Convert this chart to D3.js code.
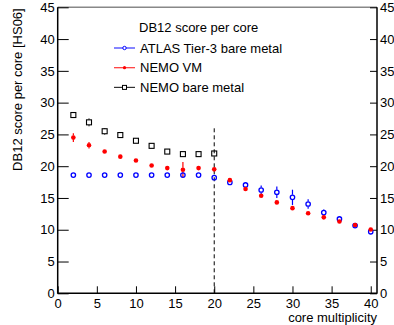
<!DOCTYPE html>
<html>
<head>
<meta charset="utf-8">
<script src="https://d3js.org/d3.v7.min.js"></script>
<style>
  body { margin: 0; background: #fff; }
  svg { display: block; font-family: "Liberation Sans", Arial, sans-serif; }
</style>
</head>
<body>
<svg width="394" height="325"></svg>
<script>
// values
var cores = [2, 4, 6, 8, 10, 12, 14, 16, 18, 20, 22, 24, 26, 28, 30, 32, 34, 36, 38, 40];
var atlasScore = [18.6, 18.6, 18.6, 18.6, 18.6, 18.6, 18.6, 18.6, 18.6, 18.2, 17.45, 17.05, 16.25, 15.9, 15.1, 14.05, 12.7, 11.7, 10.65, 9.7];
var atlasErr = [0.1, 0.1, 0.1, 0.1, 0.1, 0.1, 0.1, 0.1, 0.1, 0.3, 0.3, 0.35, 0.7, 0.9, 1.2, 0.75, 0.5, 0.4, 0.3, 0.5];
var vmScore = [24.5, 23.3, 22.3, 21.5, 20.9, 20.1, 19.7, 19.45, 19.7, 19.5, 17.8, 16.4, 15.35, 14.3, 13.4, 12.6, 11.95, 11.3, 10.75, 10.05];
var vmErr = [0.7, 0.5, 0.15, 0.1, 0.1, 0.1, 0.1, 1.2, 0.1, 0.2, 0.2, 0.1, 0.1, 0.1, 0.1, 0.1, 0.1, 0.1, 0.1, 0.1];
var bareCores = [2, 4, 6, 8, 10, 12, 14, 16, 18, 20];
var bareScore = [28.05, 26.9, 25.5, 24.9, 24.0, 23.2, 22.3, 21.9, 21.9, 22.0];
var bareErr = [0.1, 0.6, 0.5, 0.1, 0.1, 0.1, 0.1, 0.1, 0.1, 0.4];
var yTicks = [0, 5, 10, 15, 20, 25, 30, 35, 40, 45];
var xTicks = [0, 5, 10, 15, 20, 25, 30, 35, 40];
var cutCores = 20, cutTop = 26;

var svg = d3.select("svg"),
    padL = 57.7, padR = 377, padT = 7.3, padB = 293.3;

var x = d3.scaleLinear().domain([0, 40.8]).range([padL, padR]);
var y = d3.scaleLinear().domain([0, 45]).range([padB, padT]);

// frame top
svg.append("line").attr("x1", padL).attr("x2", padR).attr("y1", padT).attr("y2", padT)
    .attr("stroke", "#888").attr("stroke-width", 1.5);

// left axis (ticks inward)
var gl = svg.append("g").attr("transform", "translate(" + padL + ",0)");
gl.call(d3.axisLeft(y).tickValues(d3.range(0, 46)).tickSize(-6).tickFormat(""));
gl.call(d3.axisLeft(y).tickValues(yTicks).tickSize(-11).tickPadding(3));
gl.selectAll(".domain").remove();

// right axis
var gr = svg.append("g").attr("transform", "translate(" + padR + ",0)");
gr.call(d3.axisRight(y).tickValues(d3.range(0, 46)).tickSize(-3.5).tickFormat(""));
gr.call(d3.axisRight(y).tickValues(yTicks).tickSize(-7).tickPadding(3));
gr.selectAll(".domain").remove();

// bottom axis
var gb = svg.append("g").attr("transform", "translate(0," + padB + ")");
gb.call(d3.axisBottom(x).tickValues(d3.range(0, 41)).tickSize(-4).tickFormat(""));
gb.call(d3.axisBottom(x).tickValues(xTicks).tickSize(-7).tickPadding(5));
gb.selectAll(".domain").remove();

svg.selectAll(".tick text").attr("font-size", 13).attr("font-family", "Liberation Sans, Arial, sans-serif").attr("fill", "#000");
svg.selectAll(".tick line").attr("stroke", "#000");

svg.append("line").attr("x1", padL).attr("x2", padL).attr("y1", padT).attr("y2", padB + 0.5)
    .attr("stroke", "#000").attr("stroke-width", 1.5);
svg.append("line").attr("x1", padR).attr("x2", padR).attr("y1", padT).attr("y2", padB + 0.5)
    .attr("stroke", "#000").attr("stroke-width", 1.5);
svg.append("line").attr("x1", padL).attr("x2", padR).attr("y1", padB).attr("y2", padB)
    .attr("stroke", "#000").attr("stroke-width", 1.5);

// titles
svg.append("text")
    .attr("transform", "translate(22," + (padT + 1) + ") rotate(-90)")
    .attr("text-anchor", "end").attr("font-size", 13)
    .text("DB12 score per core [HS06]");
svg.append("text")
    .attr("x", padR).attr("y", 322)
    .attr("text-anchor", "end").attr("font-size", 13)
    .text("core multiplicity");

// dashed line at 20 cores
svg.append("line")
    .attr("x1", x(cutCores)).attr("x2", x(cutCores))
    .attr("y1", y(0)).attr("y2", y(cutTop))
    .attr("stroke", "#000").attr("stroke-dasharray", "4,3");

// error bars drawn outside the marker
function errBars(xs, ys, es, color, gap) {
    var g = svg.append("g").attr("stroke", color).attr("stroke-width", 1.2);
    xs.forEach(function (c, i) {
        var cx = x(c), cy = y(ys[i]);
        var hi = y(ys[i] + es[i]), lo = y(ys[i] - es[i]);
        if (cy - hi > gap) g.append("line").attr("x1", cx).attr("x2", cx).attr("y1", hi).attr("y2", cy - gap);
        if (lo - cy > gap) g.append("line").attr("x1", cx).attr("x2", cx).attr("y1", cy + gap).attr("y2", lo);
    });
}

errBars(cores, atlasScore, atlasErr, "#0000ff", 2.6);
errBars(cores, vmScore, vmErr, "#ff0000", 2);
errBars(bareCores, bareScore, bareErr, "#000", 2.8);

svg.append("g").selectAll("circle")
    .data(cores)
    .enter()
    .append("circle")
    .attr("cx", function (d) { return x(d); })
    .attr("cy", function (d, i) { return y(atlasScore[i]); })
    .attr("r", 2.2)
    .attr("fill", "none").attr("stroke", "#0000ff").attr("stroke-width", 1.3);

svg.append("g").selectAll("circle")
    .data(cores)
    .enter()
    .append("circle")
    .attr("cx", function (d) { return x(d); })
    .attr("cy", function (d, i) { return y(vmScore[i]); })
    .attr("r", 2.3)
    .attr("fill", "#ff0000");

svg.append("g").selectAll("rect")
    .data(bareCores)
    .enter()
    .append("rect")
    .attr("x", function (d) { return x(d) - 2.5; })
    .attr("y", function (d, i) { return y(bareScore[i]) - 2.5; })
    .attr("width", 5).attr("height", 5)
    .attr("fill", "none").attr("stroke", "#000").attr("stroke-width", 1.1);

// legend
var legend = svg.append("g");
legend.append("text").attr("x", 139).attr("y", 31.7).attr("font-size", 13).text("DB12 score per core");
var entries = [
    { name: "ATLAS Tier-3 bare metal", color: "#0000ff", type: "open" },
    { name: "NEMO VM", color: "#ff0000", type: "full" },
    { name: "NEMO bare metal", color: "#000", type: "square" }
];
entries.forEach(function (e, i) {
    var yy = 48 + i * 19.7;
    legend.append("line").attr("x1", 114).attr("x2", 135).attr("y1", yy).attr("y2", yy)
        .attr("stroke", e.color).attr("stroke-width", 1.2).attr("opacity", 0.8);
    if (e.type === "open") {
        legend.append("circle").attr("cx", 124.5).attr("cy", yy).attr("r", 1.7)
            .attr("fill", "#fff").attr("stroke", e.color).attr("stroke-width", 1);
    } else if (e.type === "full") {
        legend.append("circle").attr("cx", 124.5).attr("cy", yy).attr("r", 1.6).attr("fill", e.color);
    } else {
        legend.append("rect").attr("x", 122.5).attr("y", yy - 2).attr("width", 4).attr("height", 4)
            .attr("fill", "#fff").attr("stroke", e.color).attr("stroke-width", 1);
    }
    legend.append("text").attr("x", 140).attr("y", yy + 4.6).attr("font-size", 13).text(e.name);
});
</script>
</body>
</html>
